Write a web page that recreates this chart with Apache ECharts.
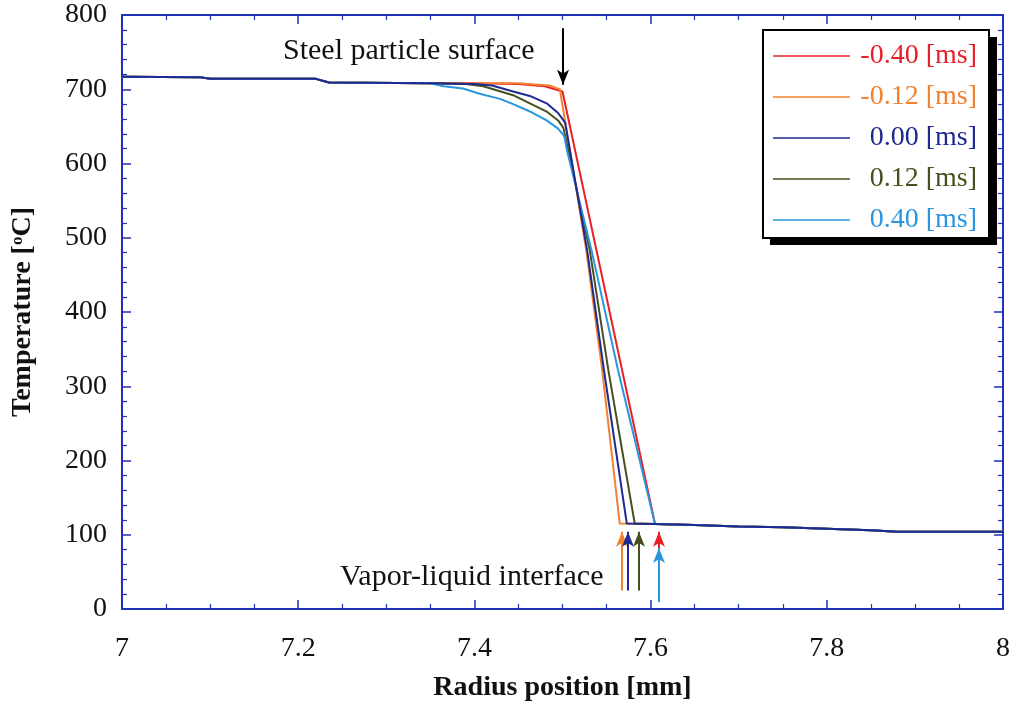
<!DOCTYPE html>
<html>
<head>
<meta charset="utf-8">
<script src="https://cdn.jsdelivr.net/npm/echarts@6/dist/echarts.min.js"></script>
<style>html,body{margin:0;padding:0;background:#fff;}#c{width:1022px;height:707px;}</style>
</head>
<body>
<div id="c"></div>
<script>
// ---- data ----
const seriesNames = ['-0.40 [ms]', '-0.12 [ms]', '0.00 [ms]', '0.12 [ms]', '0.40 [ms]'];
const seriesColors = ['#e8202a', '#f08232', '#1e2a92', '#45501e', '#2a96de'];

// common part (inside steel particle, before curves separate)
const prefixX = [7.00, 7.09, 7.10, 7.22, 7.235, 7.35];
const prefixT = [717, 716, 714, 714, 709, 708];
// common part (vapor film beyond interface)
const tailX = [7.605, 7.65, 7.70, 7.75, 7.80, 7.85, 7.88, 8.00];
const tailT = [114.5, 113, 111, 110, 108, 106, 104, 104];

const xM040 = [7.40, 7.45, 7.48, 7.50];
const tM040 = [708, 707, 704, 697];
const xM012 = [7.40, 7.45, 7.485, 7.497, 7.527, 7.545, 7.565];
const tM012 = [708, 708, 705, 700, 483, 322, 115];
const xP000 = [7.40, 7.42, 7.444, 7.463, 7.482, 7.495, 7.503, 7.528, 7.547, 7.573];
const tP000 = [707, 705, 697, 691, 681, 668, 655, 483, 322, 115];
const xP012 = [7.39, 7.41, 7.444, 7.463, 7.482, 7.495, 7.501, 7.531, 7.552, 7.582];
const tP012 = [707, 704, 692, 681, 670, 658, 648, 483, 322, 115];
const xP040 = [7.365, 7.387, 7.406, 7.429, 7.444, 7.465, 7.482, 7.495, 7.502, 7.505, 7.533, 7.563];
const tP040 = [704, 701, 694, 687, 680, 669, 658, 647, 637, 618, 483, 322];

// interface arrows: x position, arrow start temp, arrow tip temp
const arrowX = [7.6095, 7.5675, 7.5743, 7.5868, 7.6095];
const arrowFrom = [59, 25, 25, 25, 9];
const arrowTo = [104, 104, 104, 104, 82];
// steel surface arrow
const steelArrowX = 7.5006;
const steelArrowFrom = 782;
const steelArrowTo = 706;

const xTicks = [7, 7.2, 7.4, 7.6, 7.8, 8];
const yTicks = [0, 100, 200, 300, 400, 500, 600, 700, 800];

const midX = [xM040, xM012, xP000, xP012, xP040];
const midT = [tM040, tM012, tP000, tP012, tP040];

function zip(xs, ts) { return xs.map((x, i) => [x, ts[i]]); }

const axisBlue = '#1f32b8';
const serif = '"Liberation Serif", "DejaVu Serif", serif';

const series = seriesNames.map((name, i) => {
  const data = zip(prefixX, prefixT).concat(zip(midX[i], midT[i])).concat(zip(tailX, tailT));
  const s = {
    name: name,
    type: 'line',
    data: data,
    showSymbol: false,
    symbol: 'none',
    animation: false,
    z: i === 2 ? 10 : 3 + i,
    lineStyle: { color: seriesColors[i], width: 2 },
    itemStyle: { color: seriesColors[i] },
    markLine: {
      silent: true,
      animation: false,
      symbol: ['none', 'arrow'],
      symbolSize: [9, 15],
      label: { show: false },
      lineStyle: { color: seriesColors[i], width: 2, type: 'solid' },
      data: [[{ coord: [arrowX[i], arrowFrom[i]] }, { coord: [arrowX[i], arrowTo[i]] }]]
    }
  };
  if (i === 0) {
    s.markLine.data.push([
      { coord: [steelArrowX, steelArrowFrom], lineStyle: { color: '#000', width: 2 } },
      { coord: [steelArrowX, steelArrowTo], lineStyle: { color: '#000', width: 2 } }
    ]);
  }
  return s;
});

const chart = echarts.init(document.getElementById('c'), null, { renderer: 'canvas' });

const axisCommon = {
  type: 'value',
  axisLine: { show: true, onZero: false, lineStyle: { color: axisBlue, width: 2 } },
  axisTick: { show: true, inside: true, length: 9, lineStyle: { color: axisBlue, width: 1.5 } },
  minorTick: { show: true, length: 5, lineStyle: { color: axisBlue, width: 1.2 } },
  splitLine: { show: false }
};

chart.setOption({
  backgroundColor: '#ffffff',
  animation: false,
  grid: { left: 122, right: 19, top: 15, bottom: 98 },
  xAxis: [
    Object.assign({}, axisCommon, {
      min: xTicks[0], max: xTicks[xTicks.length - 1], interval: 0.2,
      position: 'bottom',
      minorTick: Object.assign({}, axisCommon.minorTick, { splitNumber: 4 }),
      axisLabel: { color: '#111', fontFamily: serif, fontSize: 28, margin: 26 },
      name: 'Radius position [mm]',
      nameLocation: 'middle',
      nameGap: 65,
      nameTextStyle: { color: '#111', fontFamily: serif, fontSize: 28, fontWeight: 'bold' }
    }),
    Object.assign({}, axisCommon, {
      min: xTicks[0], max: xTicks[xTicks.length - 1], interval: 0.2,
      position: 'top',
      minorTick: Object.assign({}, axisCommon.minorTick, { splitNumber: 4 }),
      axisLabel: { show: false }
    })
  ],
  yAxis: [
    Object.assign({}, axisCommon, {
      min: yTicks[0], max: yTicks[yTicks.length - 1], interval: 100,
      position: 'left',
      minorTick: Object.assign({}, axisCommon.minorTick, { splitNumber: 5 }),
      axisLabel: { color: '#111', fontFamily: serif, fontSize: 28, margin: 15 },
      name: '{t|Temperature [}{s|o}{t|C]}',
      nameLocation: 'middle',
      nameGap: 85,
      nameRotate: 90,
      nameTextStyle: {
        rich: {
          t: { color: '#111', fontFamily: serif, fontSize: 28, fontWeight: 'bold' },
          s: { color: '#111', fontFamily: serif, fontSize: 17, fontWeight: 'bold', verticalAlign: 'top', padding: [0, 0, 10, 0] }
        }
      }
    }),
    Object.assign({}, axisCommon, {
      min: yTicks[0], max: yTicks[yTicks.length - 1], interval: 100,
      position: 'right',
      minorTick: Object.assign({}, axisCommon.minorTick, { splitNumber: 5 }),
      axisLabel: { show: false }
    })
  ],
  legend: {
    orient: 'vertical',
    left: 763,
    top: 30,
    z: 20,
    padding: [12, 12, 4, 10],
    itemWidth: 77,
    itemHeight: 14,
    itemGap: 13,
    backgroundColor: '#ffffff',
    borderColor: '#000',
    borderWidth: 2,
    icon: 'path://M0,0 L100,0 L100,2 L0,2 Z',
    data: seriesNames.map((n, i) => ({
      name: n,
      itemStyle: { color: seriesColors[i] },
      textStyle: { color: seriesColors[i] }
    })),
    formatter: function (name) { return '{a|' + name + '}'; },
    textStyle: {
      fontFamily: serif,
      fontSize: 28,
      rich: { a: { fontFamily: serif, fontSize: 28, width: 122, align: 'right', lineHeight: 28 } }
    }
  },
  graphic: [
    { type: 'rect', z: 1, zlevel: 0, shape: { x: 770, y: 37, width: 227, height: 208 }, style: { fill: '#000' } },
    { type: 'text', left: 283, top: 36, style: { text: 'Steel particle surface', font: '30px "Liberation Serif", serif', fill: '#111' }, z: 100 },
    { type: 'text', left: 340, top: 562, style: { text: 'Vapor-liquid interface', font: '30px "Liberation Serif", serif', fill: '#111' }, z: 100 }
  ],
  series: series
});
</script>
</body>
</html>
